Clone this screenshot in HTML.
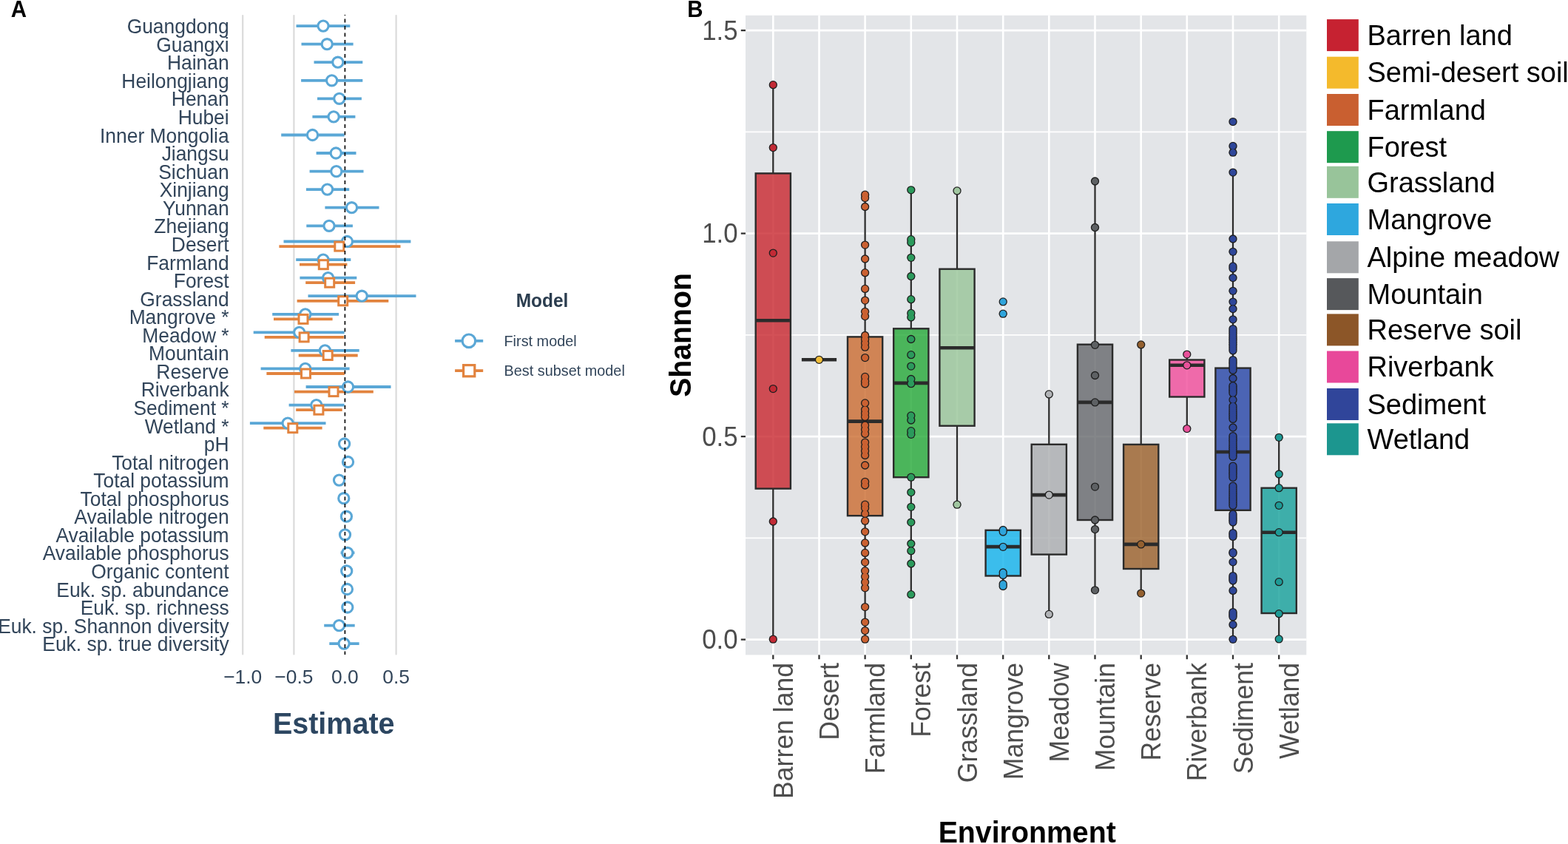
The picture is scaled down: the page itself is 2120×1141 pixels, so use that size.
<!DOCTYPE html>
<html><head><meta charset="utf-8"><title>Figure</title>
<style>
html,body{margin:0;padding:0;background:#fff;}
body{width:2120px;height:1141px;overflow:hidden;}
svg{display:block;}
</style></head>
<body>
<svg width="2120" height="1141" viewBox="0 0 2120 1141">
<rect width="2120" height="1141" fill="#fff"/>
<g id="panelA">
<line x1="328.2" y1="21" x2="328.2" y2="884.5" stroke="#DBDBDB" stroke-width="2.2" stroke-linecap="round"/>
<line x1="397.4" y1="21" x2="397.4" y2="884.5" stroke="#DBDBDB" stroke-width="2.2" stroke-linecap="round"/>
<line x1="535.6" y1="21" x2="535.6" y2="884.5" stroke="#DBDBDB" stroke-width="2.2" stroke-linecap="round"/>
<g font-family="Liberation Sans, Arial, sans-serif" font-size="26.4" fill="#32455A" text-anchor="end">
<text transform="translate(309.6 45.2) scale(1 1.04)">Guangdong</text>
<text transform="translate(309.6 69.8) scale(1 1.04)">Guangxi</text>
<text transform="translate(309.6 94.3) scale(1 1.04)">Hainan</text>
<text transform="translate(309.6 118.9) scale(1 1.04)">Heilongjiang</text>
<text transform="translate(309.6 143.4) scale(1 1.04)">Henan</text>
<text transform="translate(309.6 168.0) scale(1 1.04)">Hubei</text>
<text transform="translate(309.6 192.6) scale(1 1.04)">Inner Mongolia</text>
<text transform="translate(309.6 217.1) scale(1 1.04)">Jiangsu</text>
<text transform="translate(309.6 241.7) scale(1 1.04)">Sichuan</text>
<text transform="translate(309.6 266.2) scale(1 1.04)">Xinjiang</text>
<text transform="translate(309.6 290.8) scale(1 1.04)">Yunnan</text>
<text transform="translate(309.6 315.4) scale(1 1.04)">Zhejiang</text>
<text transform="translate(309.6 339.9) scale(1 1.04)">Desert</text>
<text transform="translate(309.6 364.5) scale(1 1.04)">Farmland</text>
<text transform="translate(309.6 389.0) scale(1 1.04)">Forest</text>
<text transform="translate(309.6 413.6) scale(1 1.04)">Grassland</text>
<text transform="translate(309.6 438.2) scale(1 1.04)">Mangrove *</text>
<text transform="translate(309.6 462.7) scale(1 1.04)">Meadow *</text>
<text transform="translate(309.6 487.3) scale(1 1.04)">Mountain</text>
<text transform="translate(309.6 511.8) scale(1 1.04)">Reserve</text>
<text transform="translate(309.6 536.4) scale(1 1.04)">Riverbank</text>
<text transform="translate(309.6 561.0) scale(1 1.04)">Sediment *</text>
<text transform="translate(309.6 585.5) scale(1 1.04)">Wetland *</text>
<text transform="translate(309.6 610.1) scale(1 1.04)">pH</text>
<text transform="translate(309.6 634.6) scale(1 1.04)">Total nitrogen</text>
<text transform="translate(309.6 659.2) scale(1 1.04)">Total potassium</text>
<text transform="translate(309.6 683.8) scale(1 1.04)">Total phosphorus</text>
<text transform="translate(309.6 708.3) scale(1 1.04)">Available nitrogen</text>
<text transform="translate(309.6 732.9) scale(1 1.04)">Available potassium</text>
<text transform="translate(309.6 757.4) scale(1 1.04)">Available phosphorus</text>
<text transform="translate(309.6 782.0) scale(1 1.04)">Organic content</text>
<text transform="translate(309.6 806.6) scale(1 1.04)">Euk. sp. abundance</text>
<text transform="translate(309.6 831.1) scale(1 1.04)">Euk. sp. richness</text>
<text transform="translate(309.6 855.7) scale(1 1.04)">Euk. sp. Shannon diversity</text>
<text transform="translate(309.6 880.2) scale(1 1.04)">Euk. sp. true diversity</text>
</g>
<line x1="400.5" y1="35.1" x2="473.3" y2="35.1" stroke="#5AA7D6" stroke-width="3.8"/>
<line x1="407.5" y1="59.7" x2="477.6" y2="59.7" stroke="#5AA7D6" stroke-width="3.8"/>
<line x1="424.5" y1="84.2" x2="490.3" y2="84.2" stroke="#5AA7D6" stroke-width="3.8"/>
<line x1="407.1" y1="108.8" x2="490.3" y2="108.8" stroke="#5AA7D6" stroke-width="3.8"/>
<line x1="429.0" y1="133.3" x2="488.9" y2="133.3" stroke="#5AA7D6" stroke-width="3.8"/>
<line x1="422.4" y1="157.9" x2="480.4" y2="157.9" stroke="#5AA7D6" stroke-width="3.8"/>
<line x1="380.2" y1="182.5" x2="465.6" y2="182.5" stroke="#5AA7D6" stroke-width="3.8"/>
<line x1="427.6" y1="207.0" x2="481.5" y2="207.0" stroke="#5AA7D6" stroke-width="3.8"/>
<line x1="418.6" y1="231.6" x2="491.5" y2="231.6" stroke="#5AA7D6" stroke-width="3.8"/>
<line x1="413.9" y1="256.1" x2="472.2" y2="256.1" stroke="#5AA7D6" stroke-width="3.8"/>
<line x1="439.4" y1="280.7" x2="512.5" y2="280.7" stroke="#5AA7D6" stroke-width="3.8"/>
<line x1="414.3" y1="305.3" x2="476.9" y2="305.3" stroke="#5AA7D6" stroke-width="3.8"/>
<line x1="383.5" y1="326.5" x2="555.4" y2="326.5" stroke="#5AA7D6" stroke-width="3.8"/>
<line x1="377.4" y1="333.1" x2="541.5" y2="333.1" stroke="#E2833E" stroke-width="3.8"/>
<line x1="400.2" y1="351.1" x2="474.3" y2="351.1" stroke="#5AA7D6" stroke-width="3.8"/>
<line x1="405.0" y1="357.7" x2="469.4" y2="357.7" stroke="#E2833E" stroke-width="3.8"/>
<line x1="405.4" y1="375.6" x2="482.3" y2="375.6" stroke="#5AA7D6" stroke-width="3.8"/>
<line x1="413.2" y1="382.2" x2="480.1" y2="382.2" stroke="#E2833E" stroke-width="3.8"/>
<line x1="416.5" y1="400.2" x2="562.5" y2="400.2" stroke="#5AA7D6" stroke-width="3.8"/>
<line x1="401.6" y1="406.8" x2="525.3" y2="406.8" stroke="#E2833E" stroke-width="3.8"/>
<line x1="368.2" y1="424.8" x2="458.1" y2="424.8" stroke="#5AA7D6" stroke-width="3.8"/>
<line x1="370.0" y1="431.4" x2="449.6" y2="431.4" stroke="#E2833E" stroke-width="3.8"/>
<line x1="342.7" y1="449.3" x2="465.6" y2="449.3" stroke="#5AA7D6" stroke-width="3.8"/>
<line x1="357.7" y1="455.9" x2="464.9" y2="455.9" stroke="#E2833E" stroke-width="3.8"/>
<line x1="393.4" y1="473.9" x2="485.7" y2="473.9" stroke="#5AA7D6" stroke-width="3.8"/>
<line x1="403.7" y1="480.5" x2="483.7" y2="480.5" stroke="#E2833E" stroke-width="3.8"/>
<line x1="352.6" y1="498.4" x2="472.6" y2="498.4" stroke="#5AA7D6" stroke-width="3.8"/>
<line x1="360.4" y1="505.0" x2="465.8" y2="505.0" stroke="#E2833E" stroke-width="3.8"/>
<line x1="413.6" y1="523.0" x2="528.5" y2="523.0" stroke="#5AA7D6" stroke-width="3.8"/>
<line x1="398.0" y1="529.6" x2="504.8" y2="529.6" stroke="#E2833E" stroke-width="3.8"/>
<line x1="390.6" y1="547.6" x2="465.6" y2="547.6" stroke="#5AA7D6" stroke-width="3.8"/>
<line x1="400.2" y1="554.2" x2="462.7" y2="554.2" stroke="#E2833E" stroke-width="3.8"/>
<line x1="337.9" y1="572.1" x2="440.5" y2="572.1" stroke="#5AA7D6" stroke-width="3.8"/>
<line x1="356.3" y1="578.7" x2="435.6" y2="578.7" stroke="#E2833E" stroke-width="3.8"/>
<line x1="463.5" y1="600.0" x2="467.7" y2="600.0" stroke="#5AA7D6" stroke-width="3.8"/>
<line x1="468.0" y1="624.5" x2="473.0" y2="624.5" stroke="#5AA7D6" stroke-width="3.8"/>
<line x1="455.0" y1="649.1" x2="462.0" y2="649.1" stroke="#5AA7D6" stroke-width="3.8"/>
<line x1="462.5" y1="673.7" x2="467.1" y2="673.7" stroke="#5AA7D6" stroke-width="3.8"/>
<line x1="466.0" y1="698.2" x2="470.8" y2="698.2" stroke="#5AA7D6" stroke-width="3.8"/>
<line x1="464.2" y1="722.8" x2="468.8" y2="722.8" stroke="#5AA7D6" stroke-width="3.8"/>
<line x1="460.6" y1="747.3" x2="479.4" y2="747.3" stroke="#5AA7D6" stroke-width="3.8"/>
<line x1="466.4" y1="771.9" x2="471.0" y2="771.9" stroke="#5AA7D6" stroke-width="3.8"/>
<line x1="467.0" y1="796.5" x2="471.8" y2="796.5" stroke="#5AA7D6" stroke-width="3.8"/>
<line x1="467.4" y1="821.0" x2="472.2" y2="821.0" stroke="#5AA7D6" stroke-width="3.8"/>
<line x1="438.2" y1="845.6" x2="479.7" y2="845.6" stroke="#5AA7D6" stroke-width="3.8"/>
<line x1="445.3" y1="870.1" x2="485.6" y2="870.1" stroke="#5AA7D6" stroke-width="3.8"/>
<circle cx="437.0" cy="35.1" r="7.1" fill="#fff" stroke="#5AA7D6" stroke-width="3.1"/>
<circle cx="442.2" cy="59.7" r="7.1" fill="#fff" stroke="#5AA7D6" stroke-width="3.1"/>
<circle cx="456.8" cy="84.2" r="7.1" fill="#fff" stroke="#5AA7D6" stroke-width="3.1"/>
<circle cx="448.6" cy="108.8" r="7.1" fill="#fff" stroke="#5AA7D6" stroke-width="3.1"/>
<circle cx="458.8" cy="133.3" r="7.1" fill="#fff" stroke="#5AA7D6" stroke-width="3.1"/>
<circle cx="451.1" cy="157.9" r="7.1" fill="#fff" stroke="#5AA7D6" stroke-width="3.1"/>
<circle cx="422.5" cy="182.5" r="7.1" fill="#fff" stroke="#5AA7D6" stroke-width="3.1"/>
<circle cx="454.2" cy="207.0" r="7.1" fill="#fff" stroke="#5AA7D6" stroke-width="3.1"/>
<circle cx="454.8" cy="231.6" r="7.1" fill="#fff" stroke="#5AA7D6" stroke-width="3.1"/>
<circle cx="442.6" cy="256.1" r="7.1" fill="#fff" stroke="#5AA7D6" stroke-width="3.1"/>
<circle cx="475.5" cy="280.7" r="7.1" fill="#fff" stroke="#5AA7D6" stroke-width="3.1"/>
<circle cx="445.0" cy="305.3" r="7.1" fill="#fff" stroke="#5AA7D6" stroke-width="3.1"/>
<circle cx="469.4" cy="326.5" r="7.1" fill="#fff" stroke="#5AA7D6" stroke-width="3.1"/>
<rect x="452.8" y="327.1" width="12" height="12" fill="#fff" stroke="#E2833E" stroke-width="3"/>
<circle cx="437.0" cy="351.1" r="7.1" fill="#fff" stroke="#5AA7D6" stroke-width="3.1"/>
<rect x="431.3" y="351.7" width="12" height="12" fill="#fff" stroke="#E2833E" stroke-width="3"/>
<circle cx="443.6" cy="375.6" r="7.1" fill="#fff" stroke="#5AA7D6" stroke-width="3.1"/>
<rect x="439.7" y="376.2" width="12" height="12" fill="#fff" stroke="#E2833E" stroke-width="3"/>
<circle cx="489.2" cy="400.2" r="7.1" fill="#fff" stroke="#5AA7D6" stroke-width="3.1"/>
<rect x="457.7" y="400.8" width="12" height="12" fill="#fff" stroke="#E2833E" stroke-width="3"/>
<circle cx="412.8" cy="424.8" r="7.1" fill="#fff" stroke="#5AA7D6" stroke-width="3.1"/>
<rect x="404.0" y="425.4" width="12" height="12" fill="#fff" stroke="#E2833E" stroke-width="3"/>
<circle cx="404.7" cy="449.3" r="7.1" fill="#fff" stroke="#5AA7D6" stroke-width="3.1"/>
<rect x="405.1" y="449.9" width="12" height="12" fill="#fff" stroke="#E2833E" stroke-width="3"/>
<circle cx="439.4" cy="473.9" r="7.1" fill="#fff" stroke="#5AA7D6" stroke-width="3.1"/>
<rect x="437.2" y="474.5" width="12" height="12" fill="#fff" stroke="#E2833E" stroke-width="3"/>
<circle cx="412.8" cy="498.4" r="7.1" fill="#fff" stroke="#5AA7D6" stroke-width="3.1"/>
<rect x="407.5" y="499.0" width="12" height="12" fill="#fff" stroke="#E2833E" stroke-width="3"/>
<circle cx="470.5" cy="523.0" r="7.1" fill="#fff" stroke="#5AA7D6" stroke-width="3.1"/>
<rect x="445.0" y="523.6" width="12" height="12" fill="#fff" stroke="#E2833E" stroke-width="3"/>
<circle cx="427.8" cy="547.6" r="7.1" fill="#fff" stroke="#5AA7D6" stroke-width="3.1"/>
<rect x="424.9" y="548.2" width="12" height="12" fill="#fff" stroke="#E2833E" stroke-width="3"/>
<circle cx="389.1" cy="572.1" r="7.1" fill="#fff" stroke="#5AA7D6" stroke-width="3.1"/>
<rect x="389.8" y="572.7" width="12" height="12" fill="#fff" stroke="#E2833E" stroke-width="3"/>
<circle cx="465.6" cy="600.0" r="7.1" fill="#fff" stroke="#5AA7D6" stroke-width="3.1"/>
<circle cx="470.5" cy="624.5" r="7.1" fill="#fff" stroke="#5AA7D6" stroke-width="3.1"/>
<circle cx="458.5" cy="649.1" r="7.1" fill="#fff" stroke="#5AA7D6" stroke-width="3.1"/>
<circle cx="464.8" cy="673.7" r="7.1" fill="#fff" stroke="#5AA7D6" stroke-width="3.1"/>
<circle cx="468.4" cy="698.2" r="7.1" fill="#fff" stroke="#5AA7D6" stroke-width="3.1"/>
<circle cx="466.5" cy="722.8" r="7.1" fill="#fff" stroke="#5AA7D6" stroke-width="3.1"/>
<circle cx="469.8" cy="747.3" r="7.1" fill="#fff" stroke="#5AA7D6" stroke-width="3.1"/>
<circle cx="468.7" cy="771.9" r="7.1" fill="#fff" stroke="#5AA7D6" stroke-width="3.1"/>
<circle cx="469.4" cy="796.5" r="7.1" fill="#fff" stroke="#5AA7D6" stroke-width="3.1"/>
<circle cx="469.8" cy="821.0" r="7.1" fill="#fff" stroke="#5AA7D6" stroke-width="3.1"/>
<circle cx="458.5" cy="845.6" r="7.1" fill="#fff" stroke="#5AA7D6" stroke-width="3.1"/>
<circle cx="465.1" cy="870.1" r="7.1" fill="#fff" stroke="#5AA7D6" stroke-width="3.1"/>
<line x1="466.4" y1="20" x2="466.4" y2="885" stroke="#000" stroke-width="1.6" stroke-dasharray="5.1 4.4" stroke-dashoffset="4.0"/>
<g font-family="Liberation Sans, Arial, sans-serif" font-size="26.4" fill="#32455A" text-anchor="middle">
<text transform="translate(328.2 924.2)">−1.0</text>
<text transform="translate(397.4 924.2)">−0.5</text>
<text transform="translate(466.4 924.2)">0.0</text>
<text transform="translate(535.6 924.2)">0.5</text>
</g>
<g font-family="Liberation Sans, Arial, sans-serif" font-size="39.5" font-weight="bold" fill="#2C4661" text-anchor="middle"><text transform="translate(451.2 991.9) scale(1 1.04)">Estimate</text></g>
<g font-family="Liberation Sans, Arial, sans-serif" font-size="24.5" font-weight="bold" fill="#2B3D4F" text-anchor="middle"><text transform="translate(733.0 414.8) scale(1 1.04)">Model</text></g>
<line x1="615.1" y1="460.8" x2="653.2" y2="460.8" stroke="#5AA7D6" stroke-width="3.8"/>
<circle cx="633.9" cy="460.8" r="8.8" fill="#fff" stroke="#5AA7D6" stroke-width="3.2"/>
<line x1="615.1" y1="501.2" x2="653.2" y2="501.2" stroke="#E2833E" stroke-width="3.8"/>
<rect x="626.6" y="493.6" width="15.2" height="15.2" fill="#fff" stroke="#E2833E" stroke-width="3.2"/>
<g font-family="Liberation Sans, Arial, sans-serif" font-size="19.85" fill="#32455A">
<text transform="translate(681.5 467.8) scale(1 1.04)">First model</text>
<text transform="translate(681.5 508.2) scale(1 1.04)">Best subset model</text>
</g>
</g>
<g id="panelB">
<rect x="1008.0" y="20.8" width="758.3" height="864.6" fill="#E3E5E8"/>
<line x1="1008.0" y1="727.4" x2="1766.3" y2="727.4" stroke="#fff" stroke-width="1.7"/>
<line x1="1008.0" y1="452.9" x2="1766.3" y2="452.9" stroke="#fff" stroke-width="1.7"/>
<line x1="1008.0" y1="178.4" x2="1766.3" y2="178.4" stroke="#fff" stroke-width="1.7"/>
<line x1="1008.0" y1="864.6" x2="1766.3" y2="864.6" stroke="#fff" stroke-width="2.6"/>
<line x1="1008.0" y1="590.1" x2="1766.3" y2="590.1" stroke="#fff" stroke-width="2.6"/>
<line x1="1008.0" y1="315.6" x2="1766.3" y2="315.6" stroke="#fff" stroke-width="2.6"/>
<line x1="1008.0" y1="41.1" x2="1766.3" y2="41.1" stroke="#fff" stroke-width="2.6"/>
<line x1="1045.3" y1="20.8" x2="1045.3" y2="885.4" stroke="#fff" stroke-width="2.6"/>
<line x1="1107.5" y1="20.8" x2="1107.5" y2="885.4" stroke="#fff" stroke-width="2.6"/>
<line x1="1169.6" y1="20.8" x2="1169.6" y2="885.4" stroke="#fff" stroke-width="2.6"/>
<line x1="1231.8" y1="20.8" x2="1231.8" y2="885.4" stroke="#fff" stroke-width="2.6"/>
<line x1="1294.0" y1="20.8" x2="1294.0" y2="885.4" stroke="#fff" stroke-width="2.6"/>
<line x1="1356.2" y1="20.8" x2="1356.2" y2="885.4" stroke="#fff" stroke-width="2.6"/>
<line x1="1418.3" y1="20.8" x2="1418.3" y2="885.4" stroke="#fff" stroke-width="2.6"/>
<line x1="1480.5" y1="20.8" x2="1480.5" y2="885.4" stroke="#fff" stroke-width="2.6"/>
<line x1="1542.7" y1="20.8" x2="1542.7" y2="885.4" stroke="#fff" stroke-width="2.6"/>
<line x1="1604.8" y1="20.8" x2="1604.8" y2="885.4" stroke="#fff" stroke-width="2.6"/>
<line x1="1667.0" y1="20.8" x2="1667.0" y2="885.4" stroke="#fff" stroke-width="2.6"/>
<line x1="1729.2" y1="20.8" x2="1729.2" y2="885.4" stroke="#fff" stroke-width="2.6"/>
<line x1="1045.3" y1="114.7" x2="1045.3" y2="234.4" stroke="#2B2B2B" stroke-width="2.3"/>
<line x1="1045.3" y1="660.6" x2="1045.3" y2="864.2" stroke="#2B2B2B" stroke-width="2.3"/>
<rect x="1021.7" y="234.4" width="47.2" height="426.2" fill="#C8252D" fill-opacity="0.8" stroke="#2B2B2B" stroke-width="2.4"/>
<line x1="1021.7" y1="433.3" x2="1068.9" y2="433.3" stroke="#2B2B2B" stroke-width="4.6"/>
<line x1="1107.5" y1="486.3" x2="1107.5" y2="486.3" stroke="#2B2B2B" stroke-width="2.3"/>
<line x1="1107.5" y1="486.3" x2="1107.5" y2="486.3" stroke="#2B2B2B" stroke-width="2.3"/>
<line x1="1083.9" y1="486.3" x2="1131.1" y2="486.3" stroke="#2B2B2B" stroke-width="4.6"/>
<line x1="1169.6" y1="262.1" x2="1169.6" y2="455.4" stroke="#2B2B2B" stroke-width="2.3"/>
<line x1="1169.6" y1="697.2" x2="1169.6" y2="864.2" stroke="#2B2B2B" stroke-width="2.3"/>
<rect x="1146.0" y="455.4" width="47.2" height="241.8" fill="#CB6C30" fill-opacity="0.8" stroke="#2B2B2B" stroke-width="2.4"/>
<line x1="1146.0" y1="569.6" x2="1193.2" y2="569.6" stroke="#2B2B2B" stroke-width="4.6"/>
<line x1="1231.8" y1="256.8" x2="1231.8" y2="444.3" stroke="#2B2B2B" stroke-width="2.3"/>
<line x1="1231.8" y1="645.2" x2="1231.8" y2="803.7" stroke="#2B2B2B" stroke-width="2.3"/>
<rect x="1208.2" y="444.3" width="47.2" height="200.9" fill="#24A937" fill-opacity="0.8" stroke="#2B2B2B" stroke-width="2.4"/>
<line x1="1208.2" y1="517.9" x2="1255.4" y2="517.9" stroke="#2B2B2B" stroke-width="4.6"/>
<line x1="1294.0" y1="257.9" x2="1294.0" y2="363.7" stroke="#2B2B2B" stroke-width="2.3"/>
<line x1="1294.0" y1="575.7" x2="1294.0" y2="682.2" stroke="#2B2B2B" stroke-width="2.3"/>
<rect x="1270.4" y="363.7" width="47.2" height="212.0" fill="#97C497" fill-opacity="0.8" stroke="#2B2B2B" stroke-width="2.4"/>
<line x1="1270.4" y1="470.2" x2="1317.6" y2="470.2" stroke="#2B2B2B" stroke-width="4.6"/>
<line x1="1356.2" y1="716.8" x2="1356.2" y2="716.8" stroke="#2B2B2B" stroke-width="2.3"/>
<line x1="1356.2" y1="778.5" x2="1356.2" y2="793.2" stroke="#2B2B2B" stroke-width="2.3"/>
<rect x="1332.6" y="716.8" width="47.2" height="61.7" fill="#10B3EC" fill-opacity="0.8" stroke="#2B2B2B" stroke-width="2.4"/>
<line x1="1332.6" y1="739.1" x2="1379.8" y2="739.1" stroke="#2B2B2B" stroke-width="4.6"/>
<line x1="1418.3" y1="532.9" x2="1418.3" y2="600.8" stroke="#2B2B2B" stroke-width="2.3"/>
<line x1="1418.3" y1="749.6" x2="1418.3" y2="830.4" stroke="#2B2B2B" stroke-width="2.3"/>
<rect x="1394.7" y="600.8" width="47.2" height="148.8" fill="#AAACAF" fill-opacity="0.8" stroke="#2B2B2B" stroke-width="2.4"/>
<line x1="1394.7" y1="669.1" x2="1441.9" y2="669.1" stroke="#2B2B2B" stroke-width="4.6"/>
<line x1="1480.5" y1="245.0" x2="1480.5" y2="465.7" stroke="#2B2B2B" stroke-width="2.3"/>
<line x1="1480.5" y1="703.0" x2="1480.5" y2="797.8" stroke="#2B2B2B" stroke-width="2.3"/>
<rect x="1456.9" y="465.7" width="47.2" height="237.3" fill="#65686B" fill-opacity="0.8" stroke="#2B2B2B" stroke-width="2.4"/>
<line x1="1456.9" y1="543.9" x2="1504.1" y2="543.9" stroke="#2B2B2B" stroke-width="4.6"/>
<line x1="1542.7" y1="465.9" x2="1542.7" y2="600.9" stroke="#2B2B2B" stroke-width="2.3"/>
<line x1="1542.7" y1="769.0" x2="1542.7" y2="802.1" stroke="#2B2B2B" stroke-width="2.3"/>
<rect x="1519.1" y="600.9" width="47.2" height="168.1" fill="#9A5F28" fill-opacity="0.8" stroke="#2B2B2B" stroke-width="2.4"/>
<line x1="1519.1" y1="735.9" x2="1566.3" y2="735.9" stroke="#2B2B2B" stroke-width="4.6"/>
<line x1="1604.8" y1="479.1" x2="1604.8" y2="486.5" stroke="#2B2B2B" stroke-width="2.3"/>
<line x1="1604.8" y1="536.5" x2="1604.8" y2="579.6" stroke="#2B2B2B" stroke-width="2.3"/>
<rect x="1581.2" y="486.5" width="47.2" height="50.0" fill="#F14B9A" fill-opacity="0.8" stroke="#2B2B2B" stroke-width="2.4"/>
<line x1="1581.2" y1="493.8" x2="1628.4" y2="493.8" stroke="#2B2B2B" stroke-width="4.6"/>
<line x1="1667.0" y1="233.1" x2="1667.0" y2="497.6" stroke="#2B2B2B" stroke-width="2.3"/>
<line x1="1667.0" y1="689.8" x2="1667.0" y2="864.6" stroke="#2B2B2B" stroke-width="2.3"/>
<rect x="1643.4" y="497.6" width="47.2" height="192.2" fill="#2443A6" fill-opacity="0.8" stroke="#2B2B2B" stroke-width="2.4"/>
<line x1="1643.4" y1="611.0" x2="1690.6" y2="611.0" stroke="#2B2B2B" stroke-width="4.6"/>
<line x1="1729.2" y1="591.3" x2="1729.2" y2="659.7" stroke="#2B2B2B" stroke-width="2.3"/>
<line x1="1729.2" y1="829.0" x2="1729.2" y2="863.9" stroke="#2B2B2B" stroke-width="2.3"/>
<rect x="1705.6" y="659.7" width="47.2" height="169.3" fill="#14A09A" fill-opacity="0.8" stroke="#2B2B2B" stroke-width="2.4"/>
<line x1="1705.6" y1="719.7" x2="1752.8" y2="719.7" stroke="#2B2B2B" stroke-width="4.6"/>
<circle cx="1045.3" cy="114.7" r="5.65" fill="#1E1E1E"/>
<circle cx="1045.3" cy="199.6" r="5.65" fill="#1E1E1E"/>
<circle cx="1045.3" cy="342.1" r="5.65" fill="#1E1E1E"/>
<circle cx="1045.3" cy="525.6" r="5.65" fill="#1E1E1E"/>
<circle cx="1045.3" cy="705" r="5.65" fill="#1E1E1E"/>
<circle cx="1045.3" cy="864.2" r="5.65" fill="#1E1E1E"/>
<circle cx="1045.3" cy="114.7" r="4.35" fill="#C22A35"/>
<circle cx="1045.3" cy="199.6" r="4.35" fill="#C22A35"/>
<circle cx="1045.3" cy="342.1" r="4.35" fill="#C22A35"/>
<circle cx="1045.3" cy="525.6" r="4.35" fill="#C22A35"/>
<circle cx="1045.3" cy="705" r="4.35" fill="#C22A35"/>
<circle cx="1045.3" cy="864.2" r="4.35" fill="#C22A35"/>
<circle cx="1107.5" cy="486.3" r="5.65" fill="#1E1E1E"/>
<circle cx="1107.5" cy="486.3" r="4.35" fill="#F2BE3A"/>
<circle cx="1169.6" cy="263.2" r="5.65" fill="#1E1E1E"/>
<circle cx="1169.6" cy="267.6" r="5.65" fill="#1E1E1E"/>
<circle cx="1169.6" cy="279.5" r="5.65" fill="#1E1E1E"/>
<circle cx="1169.6" cy="331.1" r="5.65" fill="#1E1E1E"/>
<circle cx="1169.6" cy="350" r="5.65" fill="#1E1E1E"/>
<circle cx="1169.6" cy="368.7" r="5.65" fill="#1E1E1E"/>
<circle cx="1169.6" cy="390.4" r="5.65" fill="#1E1E1E"/>
<circle cx="1169.6" cy="406.1" r="5.65" fill="#1E1E1E"/>
<circle cx="1169.6" cy="421.3" r="5.65" fill="#1E1E1E"/>
<circle cx="1169.6" cy="427.6" r="5.65" fill="#1E1E1E"/>
<circle cx="1169.6" cy="453.5" r="5.65" fill="#1E1E1E"/>
<circle cx="1169.6" cy="458.7" r="5.65" fill="#1E1E1E"/>
<circle cx="1169.6" cy="464" r="5.65" fill="#1E1E1E"/>
<circle cx="1169.6" cy="469.2" r="5.65" fill="#1E1E1E"/>
<circle cx="1169.6" cy="483.6" r="5.65" fill="#1E1E1E"/>
<circle cx="1169.6" cy="509.4" r="5.65" fill="#1E1E1E"/>
<circle cx="1169.6" cy="515.2" r="5.65" fill="#1E1E1E"/>
<circle cx="1169.6" cy="519" r="5.65" fill="#1E1E1E"/>
<circle cx="1169.6" cy="544.9" r="5.65" fill="#1E1E1E"/>
<circle cx="1169.6" cy="553.8" r="5.65" fill="#1E1E1E"/>
<circle cx="1169.6" cy="558.8" r="5.65" fill="#1E1E1E"/>
<circle cx="1169.6" cy="563.4" r="5.65" fill="#1E1E1E"/>
<circle cx="1169.6" cy="575" r="5.65" fill="#1E1E1E"/>
<circle cx="1169.6" cy="580.8" r="5.65" fill="#1E1E1E"/>
<circle cx="1169.6" cy="586.5" r="5.65" fill="#1E1E1E"/>
<circle cx="1169.6" cy="598.1" r="5.65" fill="#1E1E1E"/>
<circle cx="1169.6" cy="603.9" r="5.65" fill="#1E1E1E"/>
<circle cx="1169.6" cy="609.7" r="5.65" fill="#1E1E1E"/>
<circle cx="1169.6" cy="615.5" r="5.65" fill="#1E1E1E"/>
<circle cx="1169.6" cy="629" r="5.65" fill="#1E1E1E"/>
<circle cx="1169.6" cy="651.3" r="5.65" fill="#1E1E1E"/>
<circle cx="1169.6" cy="656" r="5.65" fill="#1E1E1E"/>
<circle cx="1169.6" cy="682.2" r="5.65" fill="#1E1E1E"/>
<circle cx="1169.6" cy="686.8" r="5.65" fill="#1E1E1E"/>
<circle cx="1169.6" cy="694.5" r="5.65" fill="#1E1E1E"/>
<circle cx="1169.6" cy="704.2" r="5.65" fill="#1E1E1E"/>
<circle cx="1169.6" cy="718.8" r="5.65" fill="#1E1E1E"/>
<circle cx="1169.6" cy="733.9" r="5.65" fill="#1E1E1E"/>
<circle cx="1169.6" cy="747.4" r="5.65" fill="#1E1E1E"/>
<circle cx="1169.6" cy="760.1" r="5.65" fill="#1E1E1E"/>
<circle cx="1169.6" cy="771.7" r="5.65" fill="#1E1E1E"/>
<circle cx="1169.6" cy="779.4" r="5.65" fill="#1E1E1E"/>
<circle cx="1169.6" cy="787.1" r="5.65" fill="#1E1E1E"/>
<circle cx="1169.6" cy="794.8" r="5.65" fill="#1E1E1E"/>
<circle cx="1169.6" cy="820.6" r="5.65" fill="#1E1E1E"/>
<circle cx="1169.6" cy="841.1" r="5.65" fill="#1E1E1E"/>
<circle cx="1169.6" cy="852.6" r="5.65" fill="#1E1E1E"/>
<circle cx="1169.6" cy="864.2" r="5.65" fill="#1E1E1E"/>
<circle cx="1169.6" cy="263.2" r="4.35" fill="#CB6131"/>
<circle cx="1169.6" cy="267.6" r="4.35" fill="#CB6131"/>
<circle cx="1169.6" cy="279.5" r="4.35" fill="#CB6131"/>
<circle cx="1169.6" cy="331.1" r="4.35" fill="#CB6131"/>
<circle cx="1169.6" cy="350" r="4.35" fill="#CB6131"/>
<circle cx="1169.6" cy="368.7" r="4.35" fill="#CB6131"/>
<circle cx="1169.6" cy="390.4" r="4.35" fill="#CB6131"/>
<circle cx="1169.6" cy="406.1" r="4.35" fill="#CB6131"/>
<circle cx="1169.6" cy="421.3" r="4.35" fill="#CB6131"/>
<circle cx="1169.6" cy="427.6" r="4.35" fill="#CB6131"/>
<circle cx="1169.6" cy="453.5" r="4.35" fill="#CB6131"/>
<circle cx="1169.6" cy="458.7" r="4.35" fill="#CB6131"/>
<circle cx="1169.6" cy="464" r="4.35" fill="#CB6131"/>
<circle cx="1169.6" cy="469.2" r="4.35" fill="#CB6131"/>
<circle cx="1169.6" cy="483.6" r="4.35" fill="#CB6131"/>
<circle cx="1169.6" cy="509.4" r="4.35" fill="#CB6131"/>
<circle cx="1169.6" cy="515.2" r="4.35" fill="#CB6131"/>
<circle cx="1169.6" cy="519" r="4.35" fill="#CB6131"/>
<circle cx="1169.6" cy="544.9" r="4.35" fill="#CB6131"/>
<circle cx="1169.6" cy="553.8" r="4.35" fill="#CB6131"/>
<circle cx="1169.6" cy="558.8" r="4.35" fill="#CB6131"/>
<circle cx="1169.6" cy="563.4" r="4.35" fill="#CB6131"/>
<circle cx="1169.6" cy="575" r="4.35" fill="#CB6131"/>
<circle cx="1169.6" cy="580.8" r="4.35" fill="#CB6131"/>
<circle cx="1169.6" cy="586.5" r="4.35" fill="#CB6131"/>
<circle cx="1169.6" cy="598.1" r="4.35" fill="#CB6131"/>
<circle cx="1169.6" cy="603.9" r="4.35" fill="#CB6131"/>
<circle cx="1169.6" cy="609.7" r="4.35" fill="#CB6131"/>
<circle cx="1169.6" cy="615.5" r="4.35" fill="#CB6131"/>
<circle cx="1169.6" cy="629" r="4.35" fill="#CB6131"/>
<circle cx="1169.6" cy="651.3" r="4.35" fill="#CB6131"/>
<circle cx="1169.6" cy="656" r="4.35" fill="#CB6131"/>
<circle cx="1169.6" cy="682.2" r="4.35" fill="#CB6131"/>
<circle cx="1169.6" cy="686.8" r="4.35" fill="#CB6131"/>
<circle cx="1169.6" cy="694.5" r="4.35" fill="#CB6131"/>
<circle cx="1169.6" cy="704.2" r="4.35" fill="#CB6131"/>
<circle cx="1169.6" cy="718.8" r="4.35" fill="#CB6131"/>
<circle cx="1169.6" cy="733.9" r="4.35" fill="#CB6131"/>
<circle cx="1169.6" cy="747.4" r="4.35" fill="#CB6131"/>
<circle cx="1169.6" cy="760.1" r="4.35" fill="#CB6131"/>
<circle cx="1169.6" cy="771.7" r="4.35" fill="#CB6131"/>
<circle cx="1169.6" cy="779.4" r="4.35" fill="#CB6131"/>
<circle cx="1169.6" cy="787.1" r="4.35" fill="#CB6131"/>
<circle cx="1169.6" cy="794.8" r="4.35" fill="#CB6131"/>
<circle cx="1169.6" cy="820.6" r="4.35" fill="#CB6131"/>
<circle cx="1169.6" cy="841.1" r="4.35" fill="#CB6131"/>
<circle cx="1169.6" cy="852.6" r="4.35" fill="#CB6131"/>
<circle cx="1169.6" cy="864.2" r="4.35" fill="#CB6131"/>
<circle cx="1231.8" cy="256.8" r="5.65" fill="#1E1E1E"/>
<circle cx="1231.8" cy="323.7" r="5.65" fill="#1E1E1E"/>
<circle cx="1231.8" cy="327.9" r="5.65" fill="#1E1E1E"/>
<circle cx="1231.8" cy="348.3" r="5.65" fill="#1E1E1E"/>
<circle cx="1231.8" cy="373.5" r="5.65" fill="#1E1E1E"/>
<circle cx="1231.8" cy="404.7" r="5.65" fill="#1E1E1E"/>
<circle cx="1231.8" cy="423.4" r="5.65" fill="#1E1E1E"/>
<circle cx="1231.8" cy="428.9" r="5.65" fill="#1E1E1E"/>
<circle cx="1231.8" cy="458.5" r="5.65" fill="#1E1E1E"/>
<circle cx="1231.8" cy="479.7" r="5.65" fill="#1E1E1E"/>
<circle cx="1231.8" cy="495.1" r="5.65" fill="#1E1E1E"/>
<circle cx="1231.8" cy="512.5" r="5.65" fill="#1E1E1E"/>
<circle cx="1231.8" cy="518.7" r="5.65" fill="#1E1E1E"/>
<circle cx="1231.8" cy="561.9" r="5.65" fill="#1E1E1E"/>
<circle cx="1231.8" cy="568" r="5.65" fill="#1E1E1E"/>
<circle cx="1231.8" cy="582.7" r="5.65" fill="#1E1E1E"/>
<circle cx="1231.8" cy="587.3" r="5.65" fill="#1E1E1E"/>
<circle cx="1231.8" cy="645.2" r="5.65" fill="#1E1E1E"/>
<circle cx="1231.8" cy="665.6" r="5.65" fill="#1E1E1E"/>
<circle cx="1231.8" cy="685.3" r="5.65" fill="#1E1E1E"/>
<circle cx="1231.8" cy="706.1" r="5.65" fill="#1E1E1E"/>
<circle cx="1231.8" cy="735" r="5.65" fill="#1E1E1E"/>
<circle cx="1231.8" cy="744.7" r="5.65" fill="#1E1E1E"/>
<circle cx="1231.8" cy="762" r="5.65" fill="#1E1E1E"/>
<circle cx="1231.8" cy="803.7" r="5.65" fill="#1E1E1E"/>
<circle cx="1231.8" cy="256.8" r="4.35" fill="#2B9A5C"/>
<circle cx="1231.8" cy="323.7" r="4.35" fill="#2B9A5C"/>
<circle cx="1231.8" cy="327.9" r="4.35" fill="#2B9A5C"/>
<circle cx="1231.8" cy="348.3" r="4.35" fill="#2B9A5C"/>
<circle cx="1231.8" cy="373.5" r="4.35" fill="#2B9A5C"/>
<circle cx="1231.8" cy="404.7" r="4.35" fill="#2B9A5C"/>
<circle cx="1231.8" cy="423.4" r="4.35" fill="#2B9A5C"/>
<circle cx="1231.8" cy="428.9" r="4.35" fill="#2B9A5C"/>
<circle cx="1231.8" cy="458.5" r="4.35" fill="#2B9A5C"/>
<circle cx="1231.8" cy="479.7" r="4.35" fill="#2B9A5C"/>
<circle cx="1231.8" cy="495.1" r="4.35" fill="#2B9A5C"/>
<circle cx="1231.8" cy="512.5" r="4.35" fill="#2B9A5C"/>
<circle cx="1231.8" cy="518.7" r="4.35" fill="#2B9A5C"/>
<circle cx="1231.8" cy="561.9" r="4.35" fill="#2B9A5C"/>
<circle cx="1231.8" cy="568" r="4.35" fill="#2B9A5C"/>
<circle cx="1231.8" cy="582.7" r="4.35" fill="#2B9A5C"/>
<circle cx="1231.8" cy="587.3" r="4.35" fill="#2B9A5C"/>
<circle cx="1231.8" cy="645.2" r="4.35" fill="#2B9A5C"/>
<circle cx="1231.8" cy="665.6" r="4.35" fill="#2B9A5C"/>
<circle cx="1231.8" cy="685.3" r="4.35" fill="#2B9A5C"/>
<circle cx="1231.8" cy="706.1" r="4.35" fill="#2B9A5C"/>
<circle cx="1231.8" cy="735" r="4.35" fill="#2B9A5C"/>
<circle cx="1231.8" cy="744.7" r="4.35" fill="#2B9A5C"/>
<circle cx="1231.8" cy="762" r="4.35" fill="#2B9A5C"/>
<circle cx="1231.8" cy="803.7" r="4.35" fill="#2B9A5C"/>
<circle cx="1294.0" cy="257.9" r="5.65" fill="#1E1E1E"/>
<circle cx="1294.0" cy="682.2" r="5.65" fill="#1E1E1E"/>
<circle cx="1294.0" cy="257.9" r="4.35" fill="#A0C6A0"/>
<circle cx="1294.0" cy="682.2" r="4.35" fill="#A0C6A0"/>
<circle cx="1356.2" cy="407.9" r="5.65" fill="#1E1E1E"/>
<circle cx="1356.2" cy="424.2" r="5.65" fill="#1E1E1E"/>
<circle cx="1356.2" cy="716.5" r="5.65" fill="#1E1E1E"/>
<circle cx="1356.2" cy="719.0" r="5.65" fill="#1E1E1E"/>
<circle cx="1356.2" cy="739.3" r="5.65" fill="#1E1E1E"/>
<circle cx="1356.2" cy="774.0" r="5.65" fill="#1E1E1E"/>
<circle cx="1356.2" cy="777.5" r="5.65" fill="#1E1E1E"/>
<circle cx="1356.2" cy="789.5" r="5.65" fill="#1E1E1E"/>
<circle cx="1356.2" cy="792.5" r="5.65" fill="#1E1E1E"/>
<circle cx="1356.2" cy="407.9" r="4.35" fill="#2FA4DB"/>
<circle cx="1356.2" cy="424.2" r="4.35" fill="#2FA4DB"/>
<circle cx="1356.2" cy="716.5" r="4.35" fill="#2FA4DB"/>
<circle cx="1356.2" cy="719.0" r="4.35" fill="#2FA4DB"/>
<circle cx="1356.2" cy="739.3" r="4.35" fill="#2FA4DB"/>
<circle cx="1356.2" cy="774.0" r="4.35" fill="#2FA4DB"/>
<circle cx="1356.2" cy="777.5" r="4.35" fill="#2FA4DB"/>
<circle cx="1356.2" cy="789.5" r="4.35" fill="#2FA4DB"/>
<circle cx="1356.2" cy="792.5" r="4.35" fill="#2FA4DB"/>
<circle cx="1418.3" cy="532.9" r="5.65" fill="#1E1E1E"/>
<circle cx="1418.3" cy="669.1" r="5.65" fill="#1E1E1E"/>
<circle cx="1418.3" cy="830.4" r="5.65" fill="#1E1E1E"/>
<circle cx="1418.3" cy="532.9" r="4.35" fill="#B2B4B7"/>
<circle cx="1418.3" cy="669.1" r="4.35" fill="#B2B4B7"/>
<circle cx="1418.3" cy="830.4" r="4.35" fill="#B2B4B7"/>
<circle cx="1480.5" cy="245" r="5.65" fill="#1E1E1E"/>
<circle cx="1480.5" cy="307.5" r="5.65" fill="#1E1E1E"/>
<circle cx="1480.5" cy="466.3" r="5.65" fill="#1E1E1E"/>
<circle cx="1480.5" cy="507.5" r="5.65" fill="#1E1E1E"/>
<circle cx="1480.5" cy="543.9" r="5.65" fill="#1E1E1E"/>
<circle cx="1480.5" cy="658.1" r="5.65" fill="#1E1E1E"/>
<circle cx="1480.5" cy="703" r="5.65" fill="#1E1E1E"/>
<circle cx="1480.5" cy="715.6" r="5.65" fill="#1E1E1E"/>
<circle cx="1480.5" cy="797.8" r="5.65" fill="#1E1E1E"/>
<circle cx="1480.5" cy="245" r="4.35" fill="#5E6164"/>
<circle cx="1480.5" cy="307.5" r="4.35" fill="#5E6164"/>
<circle cx="1480.5" cy="466.3" r="4.35" fill="#5E6164"/>
<circle cx="1480.5" cy="507.5" r="4.35" fill="#5E6164"/>
<circle cx="1480.5" cy="543.9" r="4.35" fill="#5E6164"/>
<circle cx="1480.5" cy="658.1" r="4.35" fill="#5E6164"/>
<circle cx="1480.5" cy="703" r="4.35" fill="#5E6164"/>
<circle cx="1480.5" cy="715.6" r="4.35" fill="#5E6164"/>
<circle cx="1480.5" cy="797.8" r="4.35" fill="#5E6164"/>
<circle cx="1542.7" cy="465.9" r="5.65" fill="#1E1E1E"/>
<circle cx="1542.7" cy="735.9" r="5.65" fill="#1E1E1E"/>
<circle cx="1542.7" cy="802.1" r="5.65" fill="#1E1E1E"/>
<circle cx="1542.7" cy="465.9" r="4.35" fill="#94602F"/>
<circle cx="1542.7" cy="735.9" r="4.35" fill="#94602F"/>
<circle cx="1542.7" cy="802.1" r="4.35" fill="#94602F"/>
<circle cx="1604.8" cy="479.1" r="5.65" fill="#1E1E1E"/>
<circle cx="1604.8" cy="493.8" r="5.65" fill="#1E1E1E"/>
<circle cx="1604.8" cy="579.6" r="5.65" fill="#1E1E1E"/>
<circle cx="1604.8" cy="479.1" r="4.35" fill="#E8509A"/>
<circle cx="1604.8" cy="493.8" r="4.35" fill="#E8509A"/>
<circle cx="1604.8" cy="579.6" r="4.35" fill="#E8509A"/>
<circle cx="1667.0" cy="164.6" r="5.65" fill="#1E1E1E"/>
<circle cx="1667.0" cy="197.4" r="5.65" fill="#1E1E1E"/>
<circle cx="1667.0" cy="206.2" r="5.65" fill="#1E1E1E"/>
<circle cx="1667.0" cy="233.1" r="5.65" fill="#1E1E1E"/>
<circle cx="1667.0" cy="323" r="5.65" fill="#1E1E1E"/>
<circle cx="1667.0" cy="340.3" r="5.65" fill="#1E1E1E"/>
<circle cx="1667.0" cy="359.9" r="5.65" fill="#1E1E1E"/>
<circle cx="1667.0" cy="363" r="5.65" fill="#1E1E1E"/>
<circle cx="1667.0" cy="375.6" r="5.65" fill="#1E1E1E"/>
<circle cx="1667.0" cy="393.3" r="5.65" fill="#1E1E1E"/>
<circle cx="1667.0" cy="408.1" r="5.65" fill="#1E1E1E"/>
<circle cx="1667.0" cy="417.6" r="5.65" fill="#1E1E1E"/>
<circle cx="1667.0" cy="431.8" r="5.65" fill="#1E1E1E"/>
<circle cx="1667.0" cy="444.6" r="5.65" fill="#1E1E1E"/>
<circle cx="1667.0" cy="447.5" r="5.65" fill="#1E1E1E"/>
<circle cx="1667.0" cy="450.5" r="5.65" fill="#1E1E1E"/>
<circle cx="1667.0" cy="453.4" r="5.65" fill="#1E1E1E"/>
<circle cx="1667.0" cy="456.4" r="5.65" fill="#1E1E1E"/>
<circle cx="1667.0" cy="459.3" r="5.65" fill="#1E1E1E"/>
<circle cx="1667.0" cy="462.2" r="5.65" fill="#1E1E1E"/>
<circle cx="1667.0" cy="465.2" r="5.65" fill="#1E1E1E"/>
<circle cx="1667.0" cy="468.1" r="5.65" fill="#1E1E1E"/>
<circle cx="1667.0" cy="471.1" r="5.65" fill="#1E1E1E"/>
<circle cx="1667.0" cy="474.0" r="5.65" fill="#1E1E1E"/>
<circle cx="1667.0" cy="486.6" r="5.65" fill="#1E1E1E"/>
<circle cx="1667.0" cy="489.4" r="5.65" fill="#1E1E1E"/>
<circle cx="1667.0" cy="492.1" r="5.65" fill="#1E1E1E"/>
<circle cx="1667.0" cy="494.9" r="5.65" fill="#1E1E1E"/>
<circle cx="1667.0" cy="497.6" r="5.65" fill="#1E1E1E"/>
<circle cx="1667.0" cy="500.4" r="5.65" fill="#1E1E1E"/>
<circle cx="1667.0" cy="511.5" r="5.65" fill="#1E1E1E"/>
<circle cx="1667.0" cy="521.6" r="5.65" fill="#1E1E1E"/>
<circle cx="1667.0" cy="524.1" r="5.65" fill="#1E1E1E"/>
<circle cx="1667.0" cy="526.5" r="5.65" fill="#1E1E1E"/>
<circle cx="1667.0" cy="529.0" r="5.65" fill="#1E1E1E"/>
<circle cx="1667.0" cy="531.4" r="5.65" fill="#1E1E1E"/>
<circle cx="1667.0" cy="540.5" r="5.65" fill="#1E1E1E"/>
<circle cx="1667.0" cy="549.1" r="5.65" fill="#1E1E1E"/>
<circle cx="1667.0" cy="552.0" r="5.65" fill="#1E1E1E"/>
<circle cx="1667.0" cy="554.9" r="5.65" fill="#1E1E1E"/>
<circle cx="1667.0" cy="557.8" r="5.65" fill="#1E1E1E"/>
<circle cx="1667.0" cy="560.6" r="5.65" fill="#1E1E1E"/>
<circle cx="1667.0" cy="563.5" r="5.65" fill="#1E1E1E"/>
<circle cx="1667.0" cy="566.4" r="5.65" fill="#1E1E1E"/>
<circle cx="1667.0" cy="578.0" r="5.65" fill="#1E1E1E"/>
<circle cx="1667.0" cy="589.6" r="5.65" fill="#1E1E1E"/>
<circle cx="1667.0" cy="592.4" r="5.65" fill="#1E1E1E"/>
<circle cx="1667.0" cy="595.2" r="5.65" fill="#1E1E1E"/>
<circle cx="1667.0" cy="597.9" r="5.65" fill="#1E1E1E"/>
<circle cx="1667.0" cy="600.7" r="5.65" fill="#1E1E1E"/>
<circle cx="1667.0" cy="603.5" r="5.65" fill="#1E1E1E"/>
<circle cx="1667.0" cy="606.3" r="5.65" fill="#1E1E1E"/>
<circle cx="1667.0" cy="609.1" r="5.65" fill="#1E1E1E"/>
<circle cx="1667.0" cy="611.8" r="5.65" fill="#1E1E1E"/>
<circle cx="1667.0" cy="614.6" r="5.65" fill="#1E1E1E"/>
<circle cx="1667.0" cy="617.4" r="5.65" fill="#1E1E1E"/>
<circle cx="1667.0" cy="630.1" r="5.65" fill="#1E1E1E"/>
<circle cx="1667.0" cy="632.6" r="5.65" fill="#1E1E1E"/>
<circle cx="1667.0" cy="635.2" r="5.65" fill="#1E1E1E"/>
<circle cx="1667.0" cy="637.8" r="5.65" fill="#1E1E1E"/>
<circle cx="1667.0" cy="640.3" r="5.65" fill="#1E1E1E"/>
<circle cx="1667.0" cy="642.9" r="5.65" fill="#1E1E1E"/>
<circle cx="1667.0" cy="645.4" r="5.65" fill="#1E1E1E"/>
<circle cx="1667.0" cy="657.1" r="5.65" fill="#1E1E1E"/>
<circle cx="1667.0" cy="660.0" r="5.65" fill="#1E1E1E"/>
<circle cx="1667.0" cy="662.9" r="5.65" fill="#1E1E1E"/>
<circle cx="1667.0" cy="665.9" r="5.65" fill="#1E1E1E"/>
<circle cx="1667.0" cy="668.8" r="5.65" fill="#1E1E1E"/>
<circle cx="1667.0" cy="671.7" r="5.65" fill="#1E1E1E"/>
<circle cx="1667.0" cy="674.6" r="5.65" fill="#1E1E1E"/>
<circle cx="1667.0" cy="677.6" r="5.65" fill="#1E1E1E"/>
<circle cx="1667.0" cy="680.5" r="5.65" fill="#1E1E1E"/>
<circle cx="1667.0" cy="683.4" r="5.65" fill="#1E1E1E"/>
<circle cx="1667.0" cy="695.1" r="5.65" fill="#1E1E1E"/>
<circle cx="1667.0" cy="697.8" r="5.65" fill="#1E1E1E"/>
<circle cx="1667.0" cy="700.6" r="5.65" fill="#1E1E1E"/>
<circle cx="1667.0" cy="703.3" r="5.65" fill="#1E1E1E"/>
<circle cx="1667.0" cy="706.0" r="5.65" fill="#1E1E1E"/>
<circle cx="1667.0" cy="720.6" r="5.65" fill="#1E1E1E"/>
<circle cx="1667.0" cy="723.0" r="5.65" fill="#1E1E1E"/>
<circle cx="1667.0" cy="725.4" r="5.65" fill="#1E1E1E"/>
<circle cx="1667.0" cy="746.6" r="5.65" fill="#1E1E1E"/>
<circle cx="1667.0" cy="748.1" r="5.65" fill="#1E1E1E"/>
<circle cx="1667.0" cy="778.6" r="5.65" fill="#1E1E1E"/>
<circle cx="1667.0" cy="780.7" r="5.65" fill="#1E1E1E"/>
<circle cx="1667.0" cy="782.8" r="5.65" fill="#1E1E1E"/>
<circle cx="1667.0" cy="784.9" r="5.65" fill="#1E1E1E"/>
<circle cx="1667.0" cy="827.6" r="5.65" fill="#1E1E1E"/>
<circle cx="1667.0" cy="829.7" r="5.65" fill="#1E1E1E"/>
<circle cx="1667.0" cy="831.9" r="5.65" fill="#1E1E1E"/>
<circle cx="1667.0" cy="834.0" r="5.65" fill="#1E1E1E"/>
<circle cx="1667.0" cy="864.3" r="5.65" fill="#1E1E1E"/>
<circle cx="1667.0" cy="759.8" r="5.65" fill="#1E1E1E"/>
<circle cx="1667.0" cy="798.4" r="5.65" fill="#1E1E1E"/>
<circle cx="1667.0" cy="844.4" r="5.65" fill="#1E1E1E"/>
<circle cx="1667.0" cy="164.6" r="4.35" fill="#2E4699"/>
<circle cx="1667.0" cy="197.4" r="4.35" fill="#2E4699"/>
<circle cx="1667.0" cy="206.2" r="4.35" fill="#2E4699"/>
<circle cx="1667.0" cy="233.1" r="4.35" fill="#2E4699"/>
<circle cx="1667.0" cy="323" r="4.35" fill="#2E4699"/>
<circle cx="1667.0" cy="340.3" r="4.35" fill="#2E4699"/>
<circle cx="1667.0" cy="359.9" r="4.35" fill="#2E4699"/>
<circle cx="1667.0" cy="363" r="4.35" fill="#2E4699"/>
<circle cx="1667.0" cy="375.6" r="4.35" fill="#2E4699"/>
<circle cx="1667.0" cy="393.3" r="4.35" fill="#2E4699"/>
<circle cx="1667.0" cy="408.1" r="4.35" fill="#2E4699"/>
<circle cx="1667.0" cy="417.6" r="4.35" fill="#2E4699"/>
<circle cx="1667.0" cy="431.8" r="4.35" fill="#2E4699"/>
<circle cx="1667.0" cy="444.6" r="4.35" fill="#2E4699"/>
<circle cx="1667.0" cy="447.5" r="4.35" fill="#2E4699"/>
<circle cx="1667.0" cy="450.5" r="4.35" fill="#2E4699"/>
<circle cx="1667.0" cy="453.4" r="4.35" fill="#2E4699"/>
<circle cx="1667.0" cy="456.4" r="4.35" fill="#2E4699"/>
<circle cx="1667.0" cy="459.3" r="4.35" fill="#2E4699"/>
<circle cx="1667.0" cy="462.2" r="4.35" fill="#2E4699"/>
<circle cx="1667.0" cy="465.2" r="4.35" fill="#2E4699"/>
<circle cx="1667.0" cy="468.1" r="4.35" fill="#2E4699"/>
<circle cx="1667.0" cy="471.1" r="4.35" fill="#2E4699"/>
<circle cx="1667.0" cy="474.0" r="4.35" fill="#2E4699"/>
<circle cx="1667.0" cy="486.6" r="4.35" fill="#2E4699"/>
<circle cx="1667.0" cy="489.4" r="4.35" fill="#2E4699"/>
<circle cx="1667.0" cy="492.1" r="4.35" fill="#2E4699"/>
<circle cx="1667.0" cy="494.9" r="4.35" fill="#2E4699"/>
<circle cx="1667.0" cy="497.6" r="4.35" fill="#2E4699"/>
<circle cx="1667.0" cy="500.4" r="4.35" fill="#2E4699"/>
<circle cx="1667.0" cy="511.5" r="4.35" fill="#2E4699"/>
<circle cx="1667.0" cy="521.6" r="4.35" fill="#2E4699"/>
<circle cx="1667.0" cy="524.1" r="4.35" fill="#2E4699"/>
<circle cx="1667.0" cy="526.5" r="4.35" fill="#2E4699"/>
<circle cx="1667.0" cy="529.0" r="4.35" fill="#2E4699"/>
<circle cx="1667.0" cy="531.4" r="4.35" fill="#2E4699"/>
<circle cx="1667.0" cy="540.5" r="4.35" fill="#2E4699"/>
<circle cx="1667.0" cy="549.1" r="4.35" fill="#2E4699"/>
<circle cx="1667.0" cy="552.0" r="4.35" fill="#2E4699"/>
<circle cx="1667.0" cy="554.9" r="4.35" fill="#2E4699"/>
<circle cx="1667.0" cy="557.8" r="4.35" fill="#2E4699"/>
<circle cx="1667.0" cy="560.6" r="4.35" fill="#2E4699"/>
<circle cx="1667.0" cy="563.5" r="4.35" fill="#2E4699"/>
<circle cx="1667.0" cy="566.4" r="4.35" fill="#2E4699"/>
<circle cx="1667.0" cy="578.0" r="4.35" fill="#2E4699"/>
<circle cx="1667.0" cy="589.6" r="4.35" fill="#2E4699"/>
<circle cx="1667.0" cy="592.4" r="4.35" fill="#2E4699"/>
<circle cx="1667.0" cy="595.2" r="4.35" fill="#2E4699"/>
<circle cx="1667.0" cy="597.9" r="4.35" fill="#2E4699"/>
<circle cx="1667.0" cy="600.7" r="4.35" fill="#2E4699"/>
<circle cx="1667.0" cy="603.5" r="4.35" fill="#2E4699"/>
<circle cx="1667.0" cy="606.3" r="4.35" fill="#2E4699"/>
<circle cx="1667.0" cy="609.1" r="4.35" fill="#2E4699"/>
<circle cx="1667.0" cy="611.8" r="4.35" fill="#2E4699"/>
<circle cx="1667.0" cy="614.6" r="4.35" fill="#2E4699"/>
<circle cx="1667.0" cy="617.4" r="4.35" fill="#2E4699"/>
<circle cx="1667.0" cy="630.1" r="4.35" fill="#2E4699"/>
<circle cx="1667.0" cy="632.6" r="4.35" fill="#2E4699"/>
<circle cx="1667.0" cy="635.2" r="4.35" fill="#2E4699"/>
<circle cx="1667.0" cy="637.8" r="4.35" fill="#2E4699"/>
<circle cx="1667.0" cy="640.3" r="4.35" fill="#2E4699"/>
<circle cx="1667.0" cy="642.9" r="4.35" fill="#2E4699"/>
<circle cx="1667.0" cy="645.4" r="4.35" fill="#2E4699"/>
<circle cx="1667.0" cy="657.1" r="4.35" fill="#2E4699"/>
<circle cx="1667.0" cy="660.0" r="4.35" fill="#2E4699"/>
<circle cx="1667.0" cy="662.9" r="4.35" fill="#2E4699"/>
<circle cx="1667.0" cy="665.9" r="4.35" fill="#2E4699"/>
<circle cx="1667.0" cy="668.8" r="4.35" fill="#2E4699"/>
<circle cx="1667.0" cy="671.7" r="4.35" fill="#2E4699"/>
<circle cx="1667.0" cy="674.6" r="4.35" fill="#2E4699"/>
<circle cx="1667.0" cy="677.6" r="4.35" fill="#2E4699"/>
<circle cx="1667.0" cy="680.5" r="4.35" fill="#2E4699"/>
<circle cx="1667.0" cy="683.4" r="4.35" fill="#2E4699"/>
<circle cx="1667.0" cy="695.1" r="4.35" fill="#2E4699"/>
<circle cx="1667.0" cy="697.8" r="4.35" fill="#2E4699"/>
<circle cx="1667.0" cy="700.6" r="4.35" fill="#2E4699"/>
<circle cx="1667.0" cy="703.3" r="4.35" fill="#2E4699"/>
<circle cx="1667.0" cy="706.0" r="4.35" fill="#2E4699"/>
<circle cx="1667.0" cy="720.6" r="4.35" fill="#2E4699"/>
<circle cx="1667.0" cy="723.0" r="4.35" fill="#2E4699"/>
<circle cx="1667.0" cy="725.4" r="4.35" fill="#2E4699"/>
<circle cx="1667.0" cy="746.6" r="4.35" fill="#2E4699"/>
<circle cx="1667.0" cy="748.1" r="4.35" fill="#2E4699"/>
<circle cx="1667.0" cy="778.6" r="4.35" fill="#2E4699"/>
<circle cx="1667.0" cy="780.7" r="4.35" fill="#2E4699"/>
<circle cx="1667.0" cy="782.8" r="4.35" fill="#2E4699"/>
<circle cx="1667.0" cy="784.9" r="4.35" fill="#2E4699"/>
<circle cx="1667.0" cy="827.6" r="4.35" fill="#2E4699"/>
<circle cx="1667.0" cy="829.7" r="4.35" fill="#2E4699"/>
<circle cx="1667.0" cy="831.9" r="4.35" fill="#2E4699"/>
<circle cx="1667.0" cy="834.0" r="4.35" fill="#2E4699"/>
<circle cx="1667.0" cy="864.3" r="4.35" fill="#2E4699"/>
<circle cx="1667.0" cy="759.8" r="4.35" fill="#2E4699"/>
<circle cx="1667.0" cy="798.4" r="4.35" fill="#2E4699"/>
<circle cx="1667.0" cy="844.4" r="4.35" fill="#2E4699"/>
<circle cx="1729.2" cy="591.3" r="5.65" fill="#1E1E1E"/>
<circle cx="1729.2" cy="641" r="5.65" fill="#1E1E1E"/>
<circle cx="1729.2" cy="659.7" r="5.65" fill="#1E1E1E"/>
<circle cx="1729.2" cy="683.3" r="5.65" fill="#1E1E1E"/>
<circle cx="1729.2" cy="719.7" r="5.65" fill="#1E1E1E"/>
<circle cx="1729.2" cy="786.7" r="5.65" fill="#1E1E1E"/>
<circle cx="1729.2" cy="829.7" r="5.65" fill="#1E1E1E"/>
<circle cx="1729.2" cy="863.9" r="5.65" fill="#1E1E1E"/>
<circle cx="1729.2" cy="591.3" r="4.35" fill="#1E9A95"/>
<circle cx="1729.2" cy="641" r="4.35" fill="#1E9A95"/>
<circle cx="1729.2" cy="659.7" r="4.35" fill="#1E9A95"/>
<circle cx="1729.2" cy="683.3" r="4.35" fill="#1E9A95"/>
<circle cx="1729.2" cy="719.7" r="4.35" fill="#1E9A95"/>
<circle cx="1729.2" cy="786.7" r="4.35" fill="#1E9A95"/>
<circle cx="1729.2" cy="829.7" r="4.35" fill="#1E9A95"/>
<circle cx="1729.2" cy="863.9" r="4.35" fill="#1E9A95"/>
<line x1="1001.8" y1="864.6" x2="1008.0" y2="864.6" stroke="#333" stroke-width="2.3"/>
<line x1="1001.8" y1="590.1" x2="1008.0" y2="590.1" stroke="#333" stroke-width="2.3"/>
<line x1="1001.8" y1="315.6" x2="1008.0" y2="315.6" stroke="#333" stroke-width="2.3"/>
<line x1="1001.8" y1="41.1" x2="1008.0" y2="41.1" stroke="#333" stroke-width="2.3"/>
<line x1="1045.3" y1="885.4" x2="1045.3" y2="891.2" stroke="#333" stroke-width="2.3"/>
<line x1="1107.5" y1="885.4" x2="1107.5" y2="891.2" stroke="#333" stroke-width="2.3"/>
<line x1="1169.6" y1="885.4" x2="1169.6" y2="891.2" stroke="#333" stroke-width="2.3"/>
<line x1="1231.8" y1="885.4" x2="1231.8" y2="891.2" stroke="#333" stroke-width="2.3"/>
<line x1="1294.0" y1="885.4" x2="1294.0" y2="891.2" stroke="#333" stroke-width="2.3"/>
<line x1="1356.2" y1="885.4" x2="1356.2" y2="891.2" stroke="#333" stroke-width="2.3"/>
<line x1="1418.3" y1="885.4" x2="1418.3" y2="891.2" stroke="#333" stroke-width="2.3"/>
<line x1="1480.5" y1="885.4" x2="1480.5" y2="891.2" stroke="#333" stroke-width="2.3"/>
<line x1="1542.7" y1="885.4" x2="1542.7" y2="891.2" stroke="#333" stroke-width="2.3"/>
<line x1="1604.8" y1="885.4" x2="1604.8" y2="891.2" stroke="#333" stroke-width="2.3"/>
<line x1="1667.0" y1="885.4" x2="1667.0" y2="891.2" stroke="#333" stroke-width="2.3"/>
<line x1="1729.2" y1="885.4" x2="1729.2" y2="891.2" stroke="#333" stroke-width="2.3"/>
<g font-family="Liberation Sans, Arial, sans-serif" font-size="34.8" fill="#4D4D4D" text-anchor="end">
<text transform="translate(997.6 877.2) scale(1 1.04)">0.0</text>
<text transform="translate(997.6 602.7) scale(1 1.04)">0.5</text>
<text transform="translate(997.6 328.2) scale(1 1.04)">1.0</text>
<text transform="translate(997.6 53.7) scale(1 1.04)">1.5</text>
</g>
<g font-family="Liberation Sans, Arial, sans-serif" font-size="35.6" fill="#4D4D4D" text-anchor="end">
<text transform="translate(1071.8 896.0) rotate(-90) scale(1 1.04)">Barren land</text>
<text transform="translate(1134.0 896.0) rotate(-90) scale(1 1.04)">Desert</text>
<text transform="translate(1196.1 896.0) rotate(-90) scale(1 1.04)">Farmland</text>
<text transform="translate(1258.3 896.0) rotate(-90) scale(1 1.04)">Forest</text>
<text transform="translate(1320.5 896.0) rotate(-90) scale(1 1.04)">Grassland</text>
<text transform="translate(1382.7 896.0) rotate(-90) scale(1 1.04)">Mangrove</text>
<text transform="translate(1444.8 896.0) rotate(-90) scale(1 1.04)">Meadow</text>
<text transform="translate(1507.0 896.0) rotate(-90) scale(1 1.04)">Mountain</text>
<text transform="translate(1569.2 896.0) rotate(-90) scale(1 1.04)">Reserve</text>
<text transform="translate(1631.3 896.0) rotate(-90) scale(1 1.04)">Riverbank</text>
<text transform="translate(1693.5 896.0) rotate(-90) scale(1 1.04)">Sediment</text>
<text transform="translate(1755.7 896.0) rotate(-90) scale(1 1.04)">Wetland</text>
</g>
<g font-family="Liberation Sans, Arial, sans-serif" font-size="39.3" font-weight="bold" fill="#000" text-anchor="middle">
<text transform="translate(933.5 453.0) rotate(-90) scale(1 1.04)">Shannon</text>
<text transform="translate(1388.7 1139.4) scale(1 1.04)">Environment</text>
</g>
<g font-family="Liberation Sans, Arial, sans-serif" font-size="38" fill="#000">
<rect x="1794" y="26.1" width="42.8" height="43" fill="#C62231"/>
<text transform="translate(1848.5 60.8) scale(1 1.04)">Barren land</text>
<rect x="1794" y="76.7" width="42.8" height="43" fill="#F4BA2C"/>
<text transform="translate(1848.5 111.4) scale(1 1.04)">Semi-desert soil</text>
<rect x="1794" y="127.0" width="42.8" height="43" fill="#C95F30"/>
<text transform="translate(1848.5 161.7) scale(1 1.04)">Farmland</text>
<rect x="1794" y="177.2" width="42.8" height="43" fill="#1E9A4E"/>
<text transform="translate(1848.5 211.9) scale(1 1.04)">Forest</text>
<rect x="1794" y="224.8" width="42.8" height="43" fill="#98C49A"/>
<text transform="translate(1848.5 259.5) scale(1 1.04)">Grassland</text>
<rect x="1794" y="275.0" width="42.8" height="43" fill="#2EA7DE"/>
<text transform="translate(1848.5 309.7) scale(1 1.04)">Mangrove</text>
<rect x="1794" y="326.3" width="42.8" height="43" fill="#A4A6A9"/>
<text transform="translate(1848.5 361.0) scale(1 1.04)">Alpine meadow</text>
<rect x="1794" y="376.1" width="42.8" height="43" fill="#56585B"/>
<text transform="translate(1848.5 410.8) scale(1 1.04)">Mountain</text>
<rect x="1794" y="424.4" width="42.8" height="43" fill="#8C5628"/>
<text transform="translate(1848.5 459.1) scale(1 1.04)">Reserve soil</text>
<rect x="1794" y="474.5" width="42.8" height="43" fill="#E8489A"/>
<text transform="translate(1848.5 509.2) scale(1 1.04)">Riverbank</text>
<rect x="1794" y="525.0" width="42.8" height="43" fill="#30459A"/>
<text transform="translate(1848.5 559.7) scale(1 1.04)">Sediment</text>
<rect x="1794" y="572.3" width="42.8" height="43" fill="#1C968F"/>
<text transform="translate(1848.5 607.0) scale(1 1.04)">Wetland</text>
</g>
</g>
<g font-family="Liberation Sans, Arial, sans-serif" font-weight="bold" fill="#000">
<g font-size="29.5"><text transform="translate(14.8 22.6) scale(1 1.04)">A</text></g>
<g font-size="29.5"><text transform="translate(929.2 23.0) scale(1 1.04)">B</text></g>
</g>
</svg>
</body></html>
